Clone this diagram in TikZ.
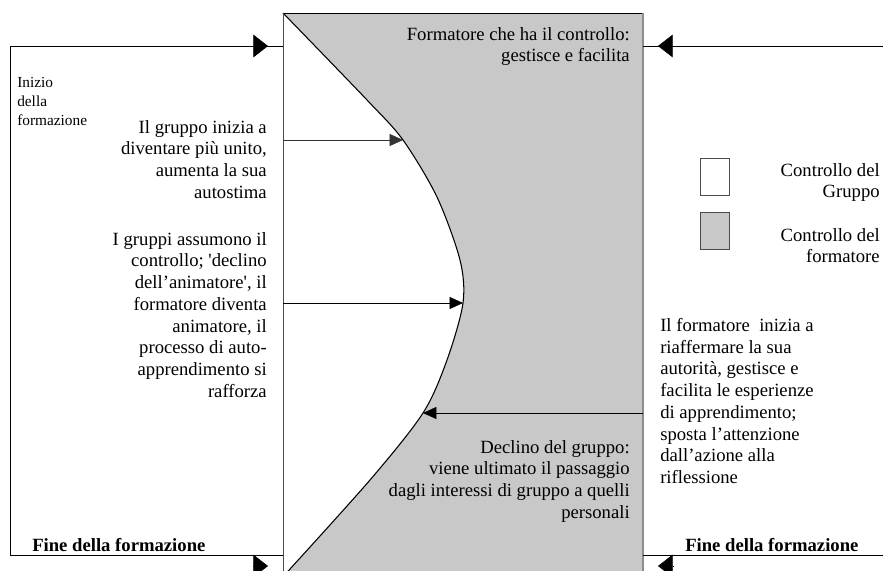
\documentclass[tikz,border=0pt]{standalone}
\usepackage{fontspec}
\setmainfont{Liberation Serif}
\usetikzlibrary{arrows.meta}
\definecolor{ctrlgray}{RGB}{200,200,200}
\tikzset{
  txt/.style={inner sep=0pt, font=\fontsize{14}{16.3}\selectfont},
  smalltxt/.style={inner sep=0pt, align=left, font=\fontsize{11.5}{14.3}\selectfont},
  finetxt/.style={inner sep=0pt, font=\fontsize{14}{16.3}\selectfont\bfseries},
  bigtip/.style={-{Triangle[length=11pt,width=17pt]}},
  smalltip/.style={-{Triangle[length=10pt,width=9pt]}},
  legbox/.style={draw=black!70, minimum width=21.75pt, minimum height=27.75pt, inner sep=0pt},
}
\begin{document}
\begin{tikzpicture}[x=0.75pt,y=-0.75pt]
\useasboundingbox (0,0) rectangle (883,571);
\clip (0,0) rectangle (883,571);

% points on the frame and on the curve
\coordinate (ftl) at (283,13);
\coordinate (ftr) at (643,13);
\coordinate (fbl) at (283,580);
\coordinate (fbr) at (643,580);
\coordinate (k1) at (403,140);
\coordinate (k2) at (463,303);
\coordinate (k3) at (423,413);

% grey block, white part cut by the curve
\fill[ctrlgray] (ftl) rectangle (fbr);
\fill[white] plot[smooth] coordinates {(283,13) (367,100) (403,140) (437,197) (460,260) (463,303) (447,360) (423,413) (370,480) (280,580)} -- (fbl) -- cycle;
\draw[line width=0.8pt] plot[smooth] coordinates {(283,13) (367,100) (403,140) (437,197) (460,260) (463,303) (447,360) (423,413) (370,480) (280,580)};
\draw (ftl) -- (ftr);
\draw[black!70] (ftl) -- (fbl);
\draw[black!45, line width=0.9pt] (ftr) -- (fbr);

% outer lines
\coordinate (tl) at (10,46);
\coordinate (bl) at (10,555);
\coordinate (lt) at (283,46);
\coordinate (lb) at (283,555);
\coordinate (ltip) at (268,46);
\coordinate (rt) at (643,46);
\coordinate (rtend) at (883,46);
\coordinate (rtip) at (658,46);
\coordinate (rb) at (643,555);
\coordinate (rbend) at (883,555);
\draw (lt) -- (tl) -- (bl) -- (lb);
\draw[bigtip] (tl) -- (ltip);
\draw (rt) -- (rtend);
\draw[bigtip] (rtend) -- (rtip);
\draw (rb) -- (rbend);
\coordinate (blt) at (253,566);
\coordinate (bltip) at (268,566);
\coordinate (brt) at (673,566);
\coordinate (brtip) at (658,566);
\draw[bigtip] (blt) -- (bltip);
\draw[bigtip] (brt) -- (brtip);

% arrows to the curve
\coordinate (a1) at (283,140);
\coordinate (a2) at (283,303);
\coordinate (a3) at (643,413);
\draw[smalltip, black!80] (a1) -- (k1);
\draw[smalltip] (a2) -- (k2);
\draw[smalltip] (a3) -- (k3);

% texts
\node[txt, align=right, anchor=north east] (controllo) at (630,27) {Formatore che ha il controllo:\\gestisce e facilita};
\node[smalltxt, anchor=north west] (inizio) at (17,77) {Inizio\\della\\formazione};
\node[txt, align=right, anchor=north east] (unito) at (267,120) {Il gruppo inizia a\\diventare più unito,\\aumenta la sua\\autostima};
\node[txt, align=right, anchor=north east] (assumono) at (267,232) {I gruppi assumono il\\controllo; \textquotesingle declino\\dell’animatore\textquotesingle, il\\formatore diventa\\animatore, il\\processo di auto-\\apprendimento si\\rafforza};
\node[txt, align=left, anchor=north west] (autorita) at (660,318) {Il formatore\ \ inizia a\\riaffermare la sua\\autorità, gestisce e\\facilita le esperienze\\di apprendimento;\\sposta l’attenzione\\dall’azione alla\\riflessione};
\node[txt, align=right, anchor=north east] (declino) at (630,440) {Declino del gruppo:\\viene ultimato il passaggio\\dagli interessi di gruppo a quelli\\personali};
\node[finetxt, anchor=north west] (fineL) at (32,538) {Fine della formazione};
\node[finetxt, anchor=north west] (fineR) at (685,538) {Fine della formazione};

% legend
\node[legbox, fill=white] (grpbox) at (714.5,176.5) {};
\node[legbox, fill=ctrlgray] (frmbox) at (714.5,231) {};
\node[txt, align=right, anchor=north east] (grpleg) at (880,163) {Controllo del\\Gruppo};
\node[txt, align=right, anchor=north east] (frmleg) at (880,228) {Controllo del\\formatore};
\end{tikzpicture}
\end{document}
